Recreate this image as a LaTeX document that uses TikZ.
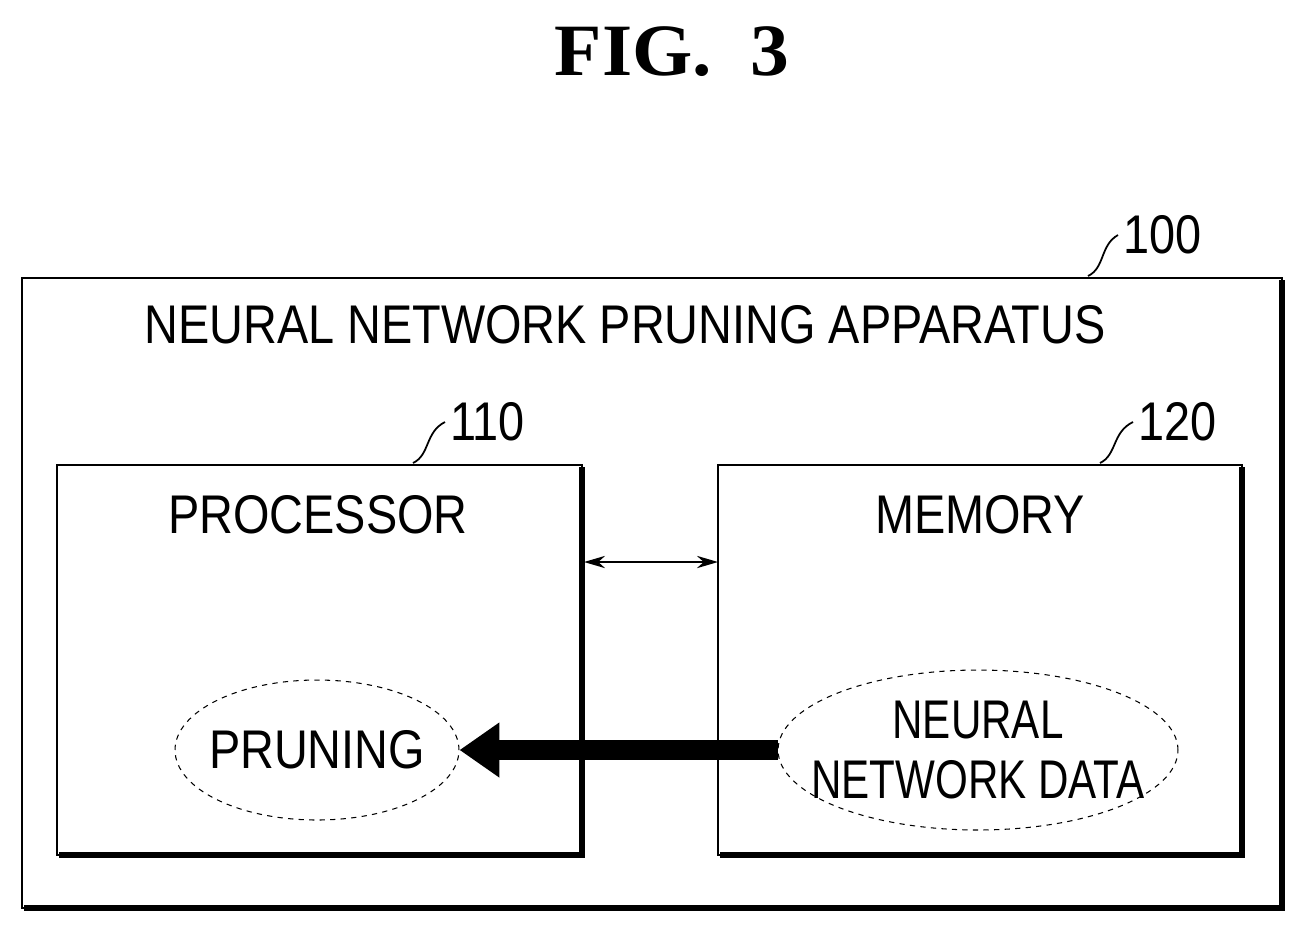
\documentclass[tikz,border=0pt]{standalone}
\usepackage{fontspec}
\setmainfont{Liberation Sans}
\newfontfamily\titlefont{Liberation Serif}
\usetikzlibrary{arrows.meta,shapes.geometric,positioning}
\tikzset{box/.style={draw=black,line width=1.2pt}}
\tikzset{shade/.style={line width=3.5pt}}
\tikzset{cloud/.style={ellipse,draw=black,dashed,line width=0.6pt,inner sep=0pt}}
\tikzset{lbl/.style={font=\fontsize{31}{34}\selectfont,xscale=0.86}}
\begin{document}
\begin{tikzpicture}[x=0.02cm,y=-0.02cm]
\useasboundingbox (0,0) rectangle (1314,931);
\node[font=\titlefont\bfseries\fontsize{42}{46}\selectfont,xscale=1.05] (title) at (672,52) {FIG.\ \ 3};
% outer apparatus
\draw[box] (22,278) rectangle (1282,908);
\draw[shade] (1282,280) -- (1282,908) -- (24,908);
\node[lbl,anchor=west] (n100) at (1118,235) {100};
\draw[line width=1pt] (1088,276) .. controls (1105,268) and (1100,245) .. (n100.west);
\node[lbl] (app) at (625,325) {NEURAL NETWORK PRUNING APPARATUS};
% processor
\draw[box] (57,465) rectangle (582,855);
\draw[shade] (582,467) -- (582,855) -- (59,855);
\node[lbl,anchor=west] (n110) at (445,422) {110};
\draw[line width=1pt] (413,463) .. controls (430,455) and (425,432) .. (n110.west);
\node[lbl] (proc) at (318,515) {PROCESSOR};
% memory
\draw[box] (718,465) rectangle (1242,855);
\draw[shade] (1242,467) -- (1242,855) -- (720,855);
\node[lbl,anchor=west] (n120) at (1133,422) {120};
\draw[line width=1pt] (1100,463) .. controls (1117,455) and (1112,432) .. (n120.west);
\node[lbl] (mem) at (980,515) {MEMORY};
% connectors
\coordinate (pR) at (584,562);
\coordinate (mL) at (718,562);
\draw[{Stealth[length=12pt,width=7pt]}-{Stealth[length=12pt,width=7pt]},line width=1pt] (pR) -- (mL);
\node[cloud,minimum width=5.68cm,minimum height=2.8cm] (prun) at (317,750) {};
\node[lbl] at (prun) {PRUNING};
\node[cloud,minimum width=8cm,minimum height=3.2cm] (data) at (978,750) {};
\node[lbl,xscale=0.9,align=center] at (data) {NEURAL\\NETWORK DATA};
\coordinate (dW) at (778,750);
\draw[line width=0.4cm,-{Triangle[length=0.8cm,width=1.05cm]}] (dW) -- (prun.east);
\end{tikzpicture}
\end{document}
